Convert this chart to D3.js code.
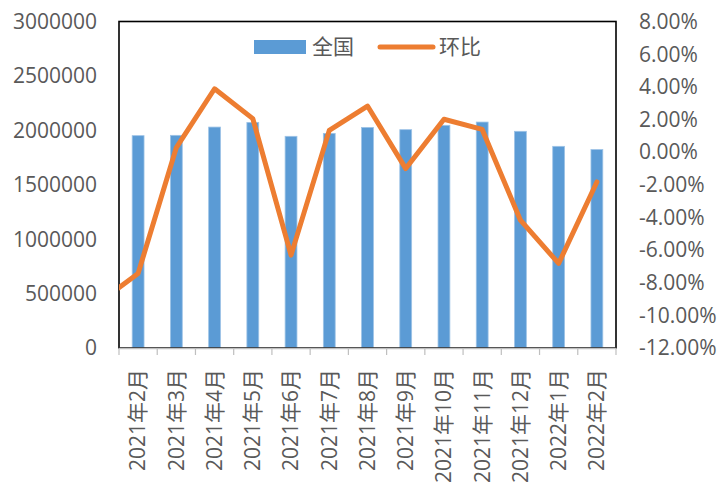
<!DOCTYPE html>
<html>
<head>
<meta charset="utf-8">
<script src="https://cdn.jsdelivr.net/npm/d3@7"></script>
<style>
  body { margin: 0; background: #fff; }
  text { font-family: "Open Sans", "Noto Sans CJK SC", sans-serif; fill: #595959; }
</style>
</head>
<body>
<script>
const months = ["2021年2月", "2021年3月", "2021年4月", "2021年5月", "2021年6月", "2021年7月",
                "2021年8月", "2021年9月", "2021年10月", "2021年11月", "2021年12月", "2022年1月", "2022年2月"];
const national = [1951000, 1954000, 2030000, 2073000, 1945000, 1972000, 2027000,
                  2006000, 2046000, 2076000, 1991000, 1853000, 1823000];
const mom = [-7.43, 0.28, 3.88, 2.05, -6.31, 1.33, 2.82, -1.01, 2.01, 1.39, -4.17, -6.82, -1.83];
// 2021年1月 value, sits just outside the plot and only shows as a clipped segment
const leadMom = -9.17;
const leftTicks = [0, 500000, 1000000, 1500000, 2000000, 2500000, 3000000];
const rightTicks = [-12, -10, -8, -6, -4, -2, 0, 2, 4, 6, 8];

const width = 720, height = 482;
const plotL = 119, plotR = 616, plotT = 21.5, plotB = 348;

const svg = d3.select("body").append("svg")
  .attr("width", width)
  .attr("height", height);

const x = d3.scaleBand()
  .domain(months)
  .range([plotL, plotR])
  .paddingInner(0.69)
  .paddingOuter(0.345);

const y = d3.scaleLinear().domain([0, 3000000]).range([plotB, plotT]);
const y2 = d3.scaleLinear().domain([-12, 8]).range([plotB, plotT]);

svg.append("clipPath").attr("id", "plot")
  .append("rect")
  .attr("x", plotL).attr("y", plotT)
  .attr("width", plotR - plotL).attr("height", plotB - plotT);

// bars
svg.append("g")
  .selectAll("rect")
  .data(national)
  .enter().append("rect")
  .attr("x", (d, i) => x(months[i]))
  .attr("y", d => y(d))
  .attr("width", x.bandwidth())
  .attr("height", d => y(0) - y(d))
  .attr("fill", "#5b9bd5")
  .attr("stroke", "#9dc3e6")
  .attr("stroke-width", 0.8);

// plot frame
svg.append("rect")
  .attr("x", plotL).attr("y", plotT)
  .attr("width", plotR - plotL).attr("height", plotB - plotT)
  .attr("fill", "none")
  .attr("stroke", "#000")
  .attr("stroke-width", 1.6);

// line
const pts = [[x(months[0]) + x.bandwidth() / 2 - x.step(), y2(leadMom)]]
  .concat(mom.map((d, i) => [x(months[i]) + x.bandwidth() / 2, y2(d)]));

svg.append("path")
  .attr("clip-path", "url(#plot)")
  .attr("d", d3.line()(pts))
  .attr("fill", "none")
  .attr("stroke", "#ed7d31")
  .attr("stroke-width", 5)
  .attr("stroke-linejoin", "round")
  .attr("stroke-linecap", "round");

// x axis
const xAxis = svg.append("g");
xAxis.append("line")
  .attr("x1", plotL).attr("x2", plotR)
  .attr("y1", plotB + 0.5).attr("y2", plotB + 0.5)
  .attr("stroke", "#bfbfbf").attr("stroke-width", 1.5);
xAxis.selectAll(".tick")
  .data(d3.range(months.length + 1))
  .enter().append("line")
  .attr("x1", i => plotL + i * x.step()).attr("x2", i => plotL + i * x.step())
  .attr("y1", plotB).attr("y2", plotB + 7)
  .attr("stroke", "#bfbfbf").attr("stroke-width", 1.2);
xAxis.selectAll("text")
  .data(months)
  .enter().append("text")
  .attr("transform", d => `translate(${x(d) + x.bandwidth() / 2},369) rotate(-90)`)
  .attr("text-anchor", "end")
  .attr("dy", "0.35em")
  .attr("font-size", 21)
  .text(d => d);

// left axis labels
svg.append("g").selectAll("text")
  .data(leftTicks)
  .enter().append("text")
  .attr("x", 97)
  .attr("y", d => y(d))
  .attr("dy", "0.35em")
  .attr("text-anchor", "end")
  .attr("font-size", 21)
  .text(d => d);

// right axis labels
svg.append("g").selectAll("text")
  .data(rightTicks)
  .enter().append("text")
  .attr("x", 639)
  .attr("y", d => y2(d))
  .attr("dy", "0.35em")
  .attr("font-size", 21)
  .text(d => d.toFixed(2) + "%");

// legend
const legend = svg.append("g");
legend.append("rect")
  .attr("x", 254).attr("y", 40)
  .attr("width", 52).attr("height", 14)
  .attr("fill", "#5b9bd5");
legend.append("text")
  .attr("x", 312).attr("y", 47)
  .attr("dy", "0.35em")
  .attr("font-size", 21)
  .text("全国");
legend.append("line")
  .attr("x1", 380).attr("x2", 433)
  .attr("y1", 47).attr("y2", 47)
  .attr("stroke", "#ed7d31")
  .attr("stroke-width", 5)
  .attr("stroke-linecap", "round");
legend.append("text")
  .attr("x", 439).attr("y", 47)
  .attr("dy", "0.35em")
  .attr("font-size", 21)
  .text("环比");
</script>
</body>
</html>
